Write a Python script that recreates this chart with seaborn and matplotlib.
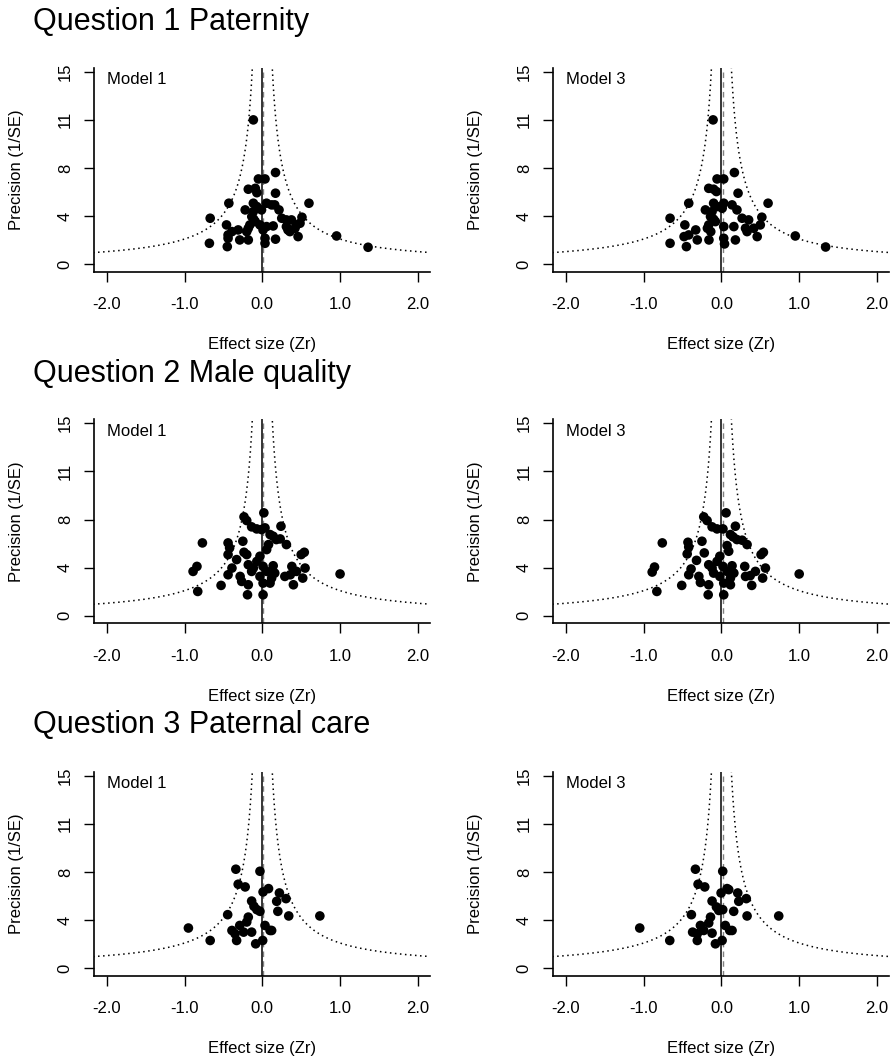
import numpy as np
import pandas as pd
import seaborn as sns
import matplotlib
matplotlib.use("Agg")
import matplotlib.pyplot as plt

# Data (effect size Zr, precision 1/SE)
q1_m1_x = [-0.115, 0.17, -0.05, 0.035, -0.18, -0.09, -0.07, 0.17, -0.43, 0.60, -0.115, -0.07,
           0.055, 0.12, 0.16, -0.22, -0.115, -0.01, 0.215, -0.67, -0.135, -0.09, -0.16, 0.25,
           0.31, 0.375, 0.51, 0.485, -0.46, -0.03, 0.055, 0.14, 0.31, 0.42, 0.44, -0.39,
           -0.44, -0.31, -0.18, -0.2, 0.01, 0.33, 0.355, 0.46, -0.44, -0.29, -0.18, 0.035,
           0.17, -0.68, 0.035, -0.45, 0.955, 1.36, -0.11]
q1_m1_y = [11.24, 7.14, 6.64, 6.64, 5.84, 5.91, 5.57, 5.53, 4.75, 4.75, 4.75, 4.49,
           4.75, 4.62, 4.62, 4.23, 4.1, 4.23, 4.23, 3.58, 3.71, 3.32, 3.06, 3.58,
           3.45, 3.45, 3.66, 3.19, 3.06, 3.06, 2.93, 2.98, 2.93, 2.80, 3.06, 2.54,
           2.28, 2.67, 2.80, 2.54, 2.67, 2.67, 2.54, 2.15, 2.02, 1.89, 1.89, 2.02,
           1.95, 1.63, 1.63, 1.37, 2.2, 1.32, 3.5]

q1_m3_x = [-0.107, 0.167, -0.056, 0.03, -0.163, -0.1, -0.064, 0.214, -0.42, 0.60, -0.1, -0.056,
           0.03, 0.137, -0.206, -0.12, 0.01, 0.2, -0.66, -0.14, -0.077, -0.163, 0.266, 0.35,
           0.52, 0.5, -0.47, 0.03, 0.16, 0.31, 0.416, -0.33, -0.42, -0.48, -0.18, -0.137,
           0.33, 0.46, -0.31, -0.16, 0.03, 0.18, -0.66, 0.04, -0.45, 0.95, 1.34, -0.1]
q1_m3_y = [11.24, 7.14, 6.64, 6.64, 5.91, 5.84, 5.66, 5.53, 4.75, 4.75, 4.75, 4.49,
           4.75, 4.62, 4.23, 4.1, 4.36, 4.23, 3.58, 3.71, 3.32, 3.06, 3.58, 3.45,
           3.66, 3.06, 3.06, 2.93, 2.93, 2.8, 2.8, 2.67, 2.28, 2.15, 2.8, 2.54,
           2.54, 2.15, 1.89, 1.89, 2.02, 1.89, 1.63, 1.58, 1.37, 2.2, 1.34, 3.5]

q2_m1_x = [0.02, -0.235, -0.2, -0.137, -0.072, -0.01, 0.035, 0.24, 0.1, 0.14, 0.18, 0.23,
           0.31, 0.08, 0.056, -0.77, -0.44, -0.42, -0.44, -0.25, -0.235, -0.2, -0.33, 0.5,
           0.54, -0.03, -0.07, -0.84, -0.89, -0.39, -0.44, -0.18, -0.115, -0.137, 0.01, 0.056,
           0.14, 0.16, 0.12, 0.38, 0.44, 0.55, 0.29, 0.36, 0.52, 0.4, -0.285, -0.265,
           -0.18, -0.03, 0.01, 0.1, -0.53, -0.83, -0.19, 0.01, 1.0]
q2_m1_y = [8.02, 7.71, 7.42, 6.93, 6.77, 6.72, 6.85, 6.98, 6.33, 6.2, 5.94, 5.99,
           5.55, 5.55, 5.16, 5.68, 5.68, 5.29, 4.77, 5.81, 4.95, 4.77, 4.38, 4.77,
           4.95, 4.64, 4.24, 3.85, 3.46, 3.72, 3.2, 3.98, 3.72, 3.46, 3.85, 3.46,
           3.9, 3.33, 2.94, 3.85, 3.46, 3.72, 3.07, 3.2, 2.94, 2.42, 3.07, 2.68,
           2.42, 3.07, 2.55, 2.55, 2.37, 1.9, 1.64, 1.64, 3.26]

q2_m3_x = [0.06, -0.227, -0.184, -0.12, -0.056, 0.02, 0.18, 0.116, 0.15, 0.2, 0.266, 0.33,
           0.073, 0.094, -0.76, -0.43, -0.42, -0.44, -0.25, -0.22, -0.32, 0.51, 0.54, -0.02,
           -0.056, -0.86, -0.89, -0.39, -0.42, -0.163, -0.12, -0.1, 0.02, 0.073, 0.137, 0.16,
           0.116, 0.3, 0.437, 0.566, 0.31, 0.37, 0.53, 0.39, -0.29, -0.27, -0.163, -0.02,
           0.03, 0.116, -0.51, -0.83, -0.17, 0.03, 1.0]
q2_m3_y = [8.02, 7.71, 7.42, 6.93, 6.77, 6.77, 6.98, 6.33, 6.15, 5.94, 5.89, 5.55,
           5.47, 5.03, 5.68, 5.73, 5.36, 4.82, 5.81, 4.9, 4.32, 4.77, 4.95, 4.64,
           4.24, 3.8, 3.41, 3.65, 3.2, 3.98, 3.72, 3.33, 3.85, 3.46, 3.9, 3.33,
           2.94, 3.85, 3.46, 3.72, 3.07, 3.13, 2.94, 2.37, 3.07, 2.6, 2.42, 3.07,
           2.55, 2.42, 2.37, 1.9, 1.64, 1.64, 3.26]

q3_m1_x = [-0.34, -0.03, -0.31, -0.22, 0.01, 0.08, 0.22, 0.305, 0.185, -0.137, -0.107, -0.07,
           -0.03, 0.2, 0.34, 0.74, -0.445, -0.18, -0.2, -0.95, -0.39, -0.35, -0.29, -0.24,
           -0.137, -0.33, -0.67, 0.035, 0.1, 0.12, -0.085, 0.005]
q3_m1_y = [7.71, 7.55, 6.54, 6.33, 5.94, 6.2, 5.86, 5.42, 5.21, 5.23, 4.82, 4.56,
           4.43, 4.43, 4.07, 4.07, 4.17, 3.98, 3.6, 3.13, 2.94, 2.68, 3.33, 2.81,
           2.81, 2.16, 2.16, 3.33, 2.94, 2.94, 1.9, 2.16]

q3_m3_x = [-0.334, 0.017, -0.30, -0.214, -0.004, 0.073, 0.094, 0.21, 0.32, 0.223, -0.12, -0.064,
           -0.034, 0.017, 0.158, 0.33, 0.737, -0.386, -0.14, -0.163, -1.05, -0.37, -0.31, -0.27,
           -0.227, -0.12, -0.31, -0.664, 0.05, 0.107, 0.137, -0.077, 0.009]
q3_m3_y = [7.71, 7.55, 6.54, 6.33, 5.86, 6.2, 6.12, 5.86, 5.42, 5.21, 5.23, 4.77,
           4.5, 4.56, 4.43, 4.07, 4.07, 4.17, 3.98, 3.52, 3.13, 2.81, 2.68, 3.33,
           2.94, 2.73, 2.16, 2.16, 3.33, 2.94, 2.94, 1.9, 2.16]

row_titles = ["Question 1 Paternity", "Question 2 Male quality", "Question 3 Paternal care"]
model_labels = ["Model 1", "Model 3"]
panels = [[(q1_m1_x, q1_m1_y), (q1_m3_x, q1_m3_y)],
          [(q2_m1_x, q2_m1_y), (q2_m3_x, q2_m3_y)],
          [(q3_m1_x, q3_m1_y), (q3_m3_x, q3_m3_y)]]

x_ticks = [-2.0, -1.0, 0.0, 1.0, 2.0]
x_ticklabels = ["-2.0", "-1.0", "0.0", "1.0", "2.0"]
y_ticks = np.linspace(0, 15, 5)
y_ticklabels = ["0", "4", "8", "11", "15"]

sns.set_style("ticks")
plt.rcParams["font.family"] = ["Liberation Sans", "DejaVu Sans"]
plt.rcParams.update({"text.color": "black", "axes.labelcolor": "black",
                     "xtick.color": "black", "ytick.color": "black",
                     "axes.edgecolor": "black"})

fig = plt.figure(figsize=(8.92, 10.62), dpi=100)

lefts = [0.1057, 0.6204]
bottoms = [0.7442, 0.4131, 0.0813]
title_y = [0.9796, 0.6483, 0.3173]
w, h = 0.3767, 0.192

prec = np.linspace(0.85, 15.3, 400)

for r in range(3):
    fig.text(0.037, title_y[r], row_titles[r], fontsize=22, va="center", ha="left")
    for c in range(2):
        ax = fig.add_axes([lefts[c], bottoms[r], w, h])
        xs, ys = panels[r][c]
        df = pd.DataFrame({"zr": xs, "precision": ys})

        # funnel bounds
        ax.plot(1.96 / prec, prec, color="black", lw=1.1, ls=(0, (1, 2.3)))
        ax.plot(-1.96 / prec, prec, color="black", lw=1.1, ls=(0, (1, 2.3)))
        ax.axvline(0.015, color="gray", lw=1.0, ls=(0, (4, 3)))
        ax.axvline(0, color="black", lw=1.1)

        sns.scatterplot(data=df, x="zr", y="precision", ax=ax, color="black",
                        s=48, edgecolor="none", linewidth=0, zorder=3)

        ax.set_xlim(-2.16, 2.16)
        ax.set_ylim(-0.58, 15.3)
        ax.set_xticks(x_ticks)
        ax.set_xticklabels(x_ticklabels, fontsize=12)
        ax.set_yticks(y_ticks)
        ax.set_yticklabels(y_ticklabels, fontsize=12, rotation=90, va="center")
        ax.tick_params(axis="x", length=7.5, width=1.0, pad=11)
        ax.tick_params(axis="y", length=7.5, width=1.0, pad=8)
        for side in ["top", "right"]:
            ax.spines[side].set_visible(False)
        for side in ["left", "bottom"]:
            ax.spines[side].set_linewidth(1.2)

        ax.set_xlabel("Effect size (Zr)", fontsize=12)
        ax.xaxis.set_label_coords(0.5, -0.32)
        ax.set_ylabel("Precision (1/SE)", fontsize=12)
        ax.yaxis.set_label_coords(-0.21, 0.5)
        ax.text(-2.0, 14.35, model_labels[c], fontsize=12, ha="left", va="center")

fig.savefig("out.png", dpi=100)
